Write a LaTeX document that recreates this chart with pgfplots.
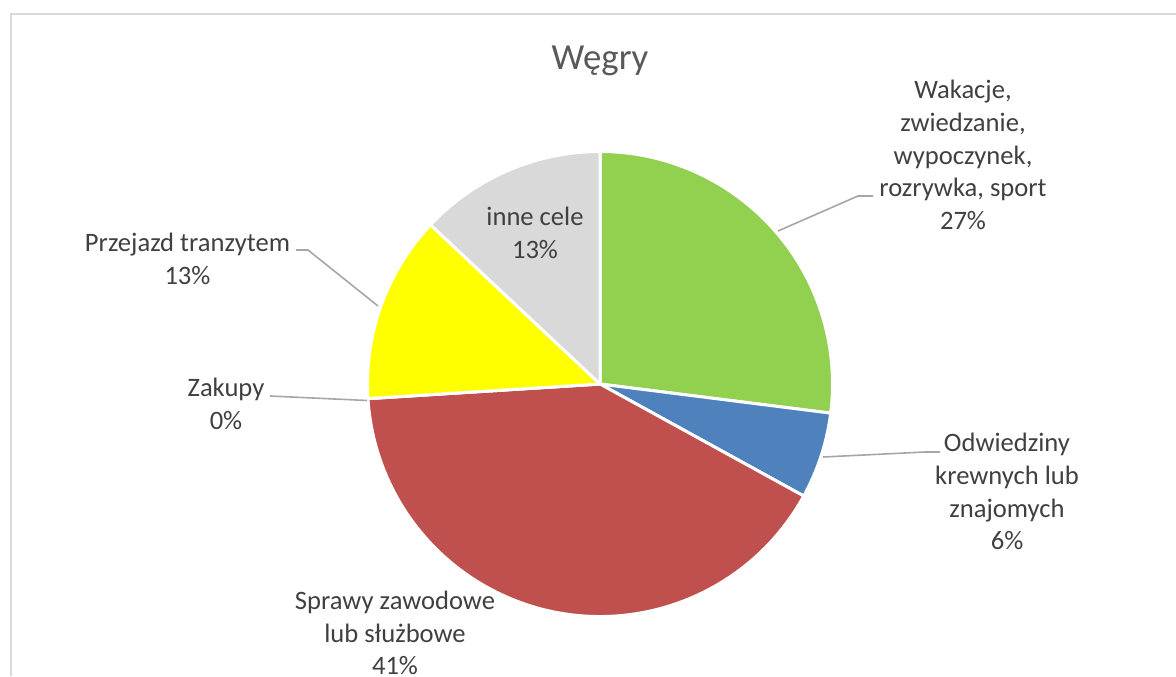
\documentclass[border=0pt]{standalone}
\usepackage{pgfplots}
\pgfplotsset{compat=1.18}
\usepackage{pgfplotstable}
\usepackage{fontspec}
\setmainfont{Carlito}
\definecolor{cGreen}{HTML}{92D050}
\definecolor{cBlue}{HTML}{4F81BD}
\definecolor{cRed}{HTML}{C0504D}
\definecolor{cOrange}{HTML}{F79646}
\definecolor{cYellow}{HTML}{FFFF00}
\definecolor{cGrey}{HTML}{D9D9D9}
\definecolor{txt}{HTML}{404040}
\definecolor{ttl}{HTML}{595959}
\definecolor{frame}{HTML}{D9D9D9}
\definecolor{lead}{HTML}{A6A6A6}
\pgfplotstableread{
share color
27 cGreen
6  cBlue
41 cRed
0  cOrange
13 cYellow
13 cGrey
}\piedata
\begin{document}
\begin{tikzpicture}
\useasboundingbox (0,0) rectangle (588pt,338pt);
\begin{axis}[
  at={(0,0)}, anchor=south west,
  scale only axis, width=588pt, height=338pt,
  xmin=0, xmax=1176, ymin=0, ymax=676,
  hide axis, clip=false,
]
\addplot[draw=none] coordinates {(0,0) (1176,676)};
\pgfplotsextra{
  \draw[frame, line width=0.85pt] (axis cs:11,0) -- (axis cs:11,662) -- (axis cs:1176,662);
  \xdef\angA{90}
  \foreach \i in {0,...,5}{
    \pgfplotstablegetelem{\i}{share}\of\piedata
    \pgfmathsetmacro{\angB}{\angA-3.6*\pgfplotsretval}
    \pgfplotstablegetelem{\i}{color}\of\piedata
    \edef\col{\pgfplotsretval}
    \fill[fill=\col, draw=white, line width=1.5pt, line join=round]
      (axis cs:600,292) -- ++(\angA:116.25pt) arc[start angle=\angA, end angle=\angB, radius=116.25pt] -- cycle;
    \xdef\angA{\angB}
  }
  % leader lines
  \draw[lead, line width=0.8pt] (axis cs:778,445) -- (axis cs:858,480) -- (axis cs:873,480);
  \draw[lead, line width=0.8pt] (axis cs:823,219) -- (axis cs:925,224) -- (axis cs:940,224);
  \draw[lead, line width=0.8pt] (axis cs:296,426) -- (axis cs:308,426) -- (axis cs:378,370);
  \draw[lead, line width=0.8pt] (axis cs:270,280) -- (axis cs:367,275.5);
  % labels
  \begin{scope}[every node/.style={align=center, text=txt, font=\fontsize{13.3}{16.4}\selectfont, inner sep=0pt}]
    \node at (axis cs:963,521) {Wakacje,\\zwiedzanie,\\wypoczynek,\\rozrywka, sport\\27\%};
    \node at (axis cs:1007,184.5) {Odwiedziny\\krewnych lub\\znajomych\\6\%};
    \node at (axis cs:395,43) {Sprawy zawodowe\\lub służbowe\\41\%};
    \node at (axis cs:187.5,417) {Przejazd tranzytem\\13\%};
    \node at (axis cs:226,272) {Zakupy\\0\%};
    \node at (axis cs:535,443.5) {inne cele\\13\%};
  \end{scope}
  \node[text=ttl, font=\fontsize{18.4}{22}\selectfont, inner sep=0pt] at (axis cs:600,615) {Węgry};
}
\end{axis}
\end{tikzpicture}
\end{document}
